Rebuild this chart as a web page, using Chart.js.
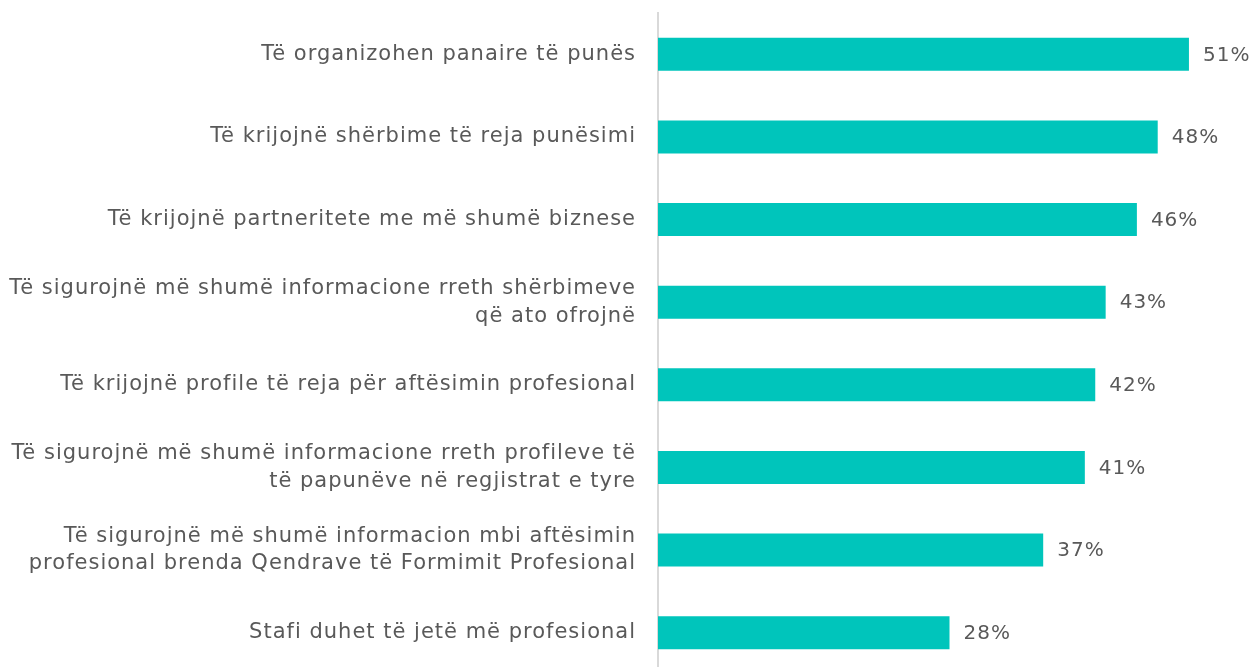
<!DOCTYPE html>
<html>
<head>
<meta charset="utf-8">
<script src="https://cdn.jsdelivr.net/npm/chart.js@4/dist/chart.umd.min.js"></script>
<style>
  html, body { margin: 0; padding: 0; background: #ffffff; overflow: hidden; width: 1254px; height: 667px; }
  canvas { display: block; }
</style>
</head>
<body>
<canvas id="chart" width="1254" height="674"></canvas>
<script>
// Survey answers (share of respondents, %)
const categories = [
  "Të organizohen panaire të punës",
  "Të krijojnë shërbime të reja punësimi",
  "Të krijojnë partneritete me më shumë biznese",
  ["Të sigurojnë më shumë informacione rreth shërbimeve", "që ato ofrojnë"],
  "Të krijojnë profile të reja për aftësimin profesional",
  ["Të sigurojnë më shumë informacione rreth profileve të", "të papunëve në regjistrat e tyre"],
  ["Të sigurojnë më shumë informacion mbi aftësimin", "profesional brenda Qendrave të Formimit Profesional"],
  "Stafi duhet të jetë më profesional"
];
const values = [51, 48, 46, 43, 42, 41, 37, 28];
const valueLabels = ["51%", "48%", "46%", "43%", "42%", "41%", "37%", "28%"];

const FONT = "'DejaVu Sans', sans-serif";
const TEXT = "#595959";
const SPACING = "1px";

// Slightly open letter spacing for all canvas text
const wideText = {
  id: "wideText",
  beforeUpdate(chart) { chart.ctx.letterSpacing = SPACING; },
  beforeDraw(chart) { chart.ctx.letterSpacing = SPACING; }
};

// Writes the percentage just past the end of each bar
const barValueLabels = {
  id: "barValueLabels",
  afterDatasetsDraw(chart) {
    const ctx = chart.ctx;
    const meta = chart.getDatasetMeta(0);
    ctx.save();
    ctx.letterSpacing = SPACING;
    ctx.font = "20px " + FONT;
    ctx.fillStyle = TEXT;
    ctx.textAlign = "left";
    ctx.textBaseline = "middle";
    meta.data.forEach((bar, i) => {
      ctx.fillText(valueLabels[i], bar.x + 14, bar.y + 1);
    });
    ctx.restore();
  }
};

new Chart(document.getElementById("chart"), {
  type: "bar",
  data: {
    labels: categories,
    datasets: [{
      data: values,
      backgroundColor: "#00c5bb",
      borderWidth: 0,
      categoryPercentage: 1,
      barPercentage: 0.4
    }]
  },
  options: {
    indexAxis: "y",
    responsive: false,
    maintainAspectRatio: false,
    animation: false,
    devicePixelRatio: 1,
    layout: { padding: { top: 13, right: 13, bottom: 0, left: 0 } },
    plugins: {
      legend: { display: false },
      tooltip: { enabled: false }
    },
    scales: {
      x: { display: false, min: 0, max: 56 },
      y: {
        grid: { display: false, drawTicks: false },
        border: { display: true, color: "#d9d9d9", width: 2 },
        ticks: {
          color: TEXT,
          padding: 22,
          font: { family: FONT, size: 21, lineHeight: 1.33 }
        },
        // fixed label column; no extra room above/below the bands
        afterFit(scale) {
          scale.width = 658;
          scale.paddingTop = 0;
          scale.paddingBottom = 0;
        }
      }
    }
  },
  plugins: [wideText, barValueLabels]
});
</script>
</body>
</html>
